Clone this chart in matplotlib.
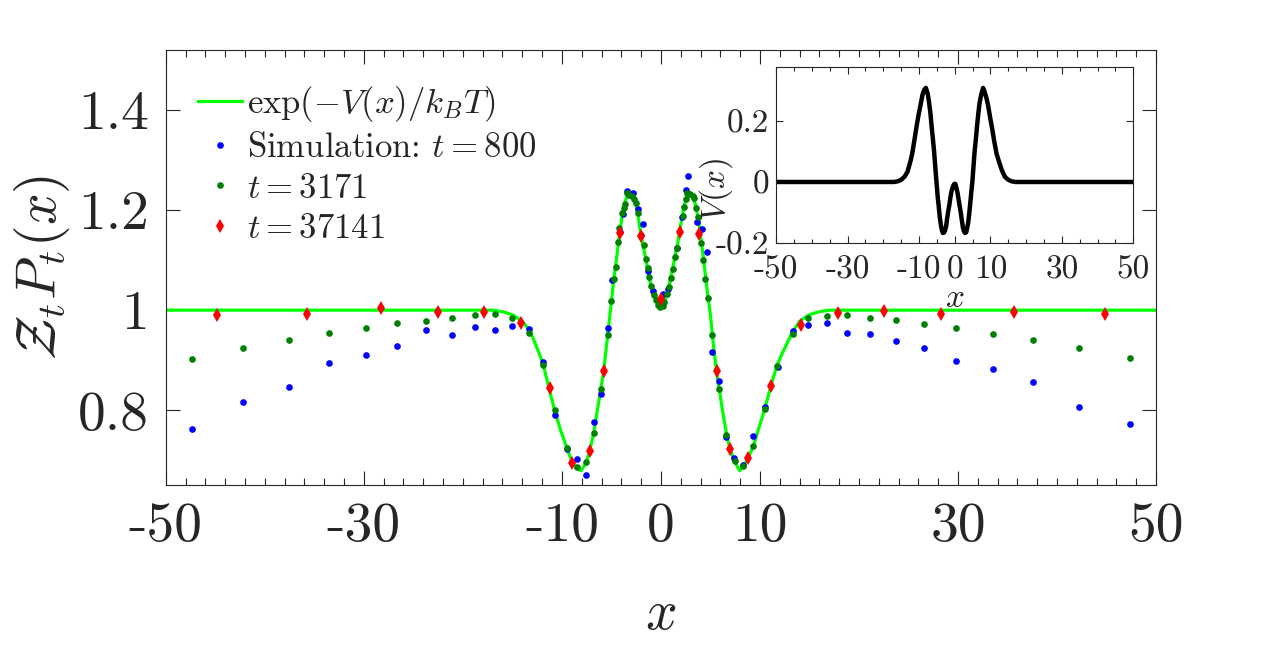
import numpy as np
import matplotlib
matplotlib.use('Agg')
import matplotlib.pyplot as plt
from matplotlib.ticker import FixedLocator, MultipleLocator

plt.rcParams['mathtext.fontset'] = 'cm'
plt.rcParams['font.family'] = 'serif'
plt.rcParams['font.serif'] = ['cmr10', 'DejaVu Serif']
plt.rcParams['axes.unicode_minus'] = False

# curva exp(-V/kT)
curva_x = [-50, -17, -16, -15, -14, -13.2, -12.3, -11.9, -11.3, -10.7, -10.1, -9.5, -9.0, -8.5,
           -8.06, -7.55, -7.19, -6.79, -6.4, -6.08, -5.78, -5.37, -5.1, -4.97, -4.77, -4.5, -4.2,
           -3.9, -3.6, -3.3, -3.0, -2.7, -2.4, -2.1, -1.8, -1.5, -1.2, -0.9, -0.6, -0.3, -0.05,
           0.2, 0.5, 0.8, 1.1, 1.4, 1.7, 2.0, 2.3, 2.6, 2.9, 3.2, 3.5, 3.8, 4.1, 4.4, 4.7, 5.0,
           5.2, 5.6, 5.9, 6.25, 6.64, 6.98, 7.41, 7.95, 8.32, 8.82, 9.33, 9.9, 10.5, 11.1, 11.7,
           12.4, 13.2, 14, 15, 16, 17, 50]
curva_y = [1.0, 1.0, 0.997, 0.991, 0.978, 0.958, 0.914, 0.892, 0.844, 0.797, 0.758, 0.725, 0.698, 0.684,
           0.679, 0.695, 0.719, 0.754, 0.802, 0.841, 0.879, 0.951, 1.0, 1.021, 1.061, 1.10, 1.15,
           1.19, 1.218, 1.234, 1.232, 1.222, 1.200, 1.160, 1.128, 1.100, 1.066, 1.040, 1.024, 1.012, 1.007,
           1.009, 1.025, 1.046, 1.075, 1.105, 1.135, 1.170, 1.205, 1.226, 1.233, 1.230, 1.210, 1.180, 1.135, 1.085, 1.035, 0.99,
           0.95, 0.878, 0.842, 0.795, 0.751, 0.722, 0.699, 0.679, 0.688, 0.705, 0.728, 0.765, 0.804, 0.848, 0.889,
           0.920, 0.953, 0.978, 0.991, 0.997, 1.0, 1.0]

# potencial V(x) do inset
pot_V = [0, 0, 0.002, 0.007, 0.018, 0.034, 0.072, 0.093, 0.136, 0.181, 0.222, 0.257, 0.288, 0.304,
         0.310, 0.291, 0.264, 0.226, 0.176, 0.139, 0.103, 0.040, 0.0, -0.017, -0.048, -0.076, -0.112,
         -0.139, -0.158, -0.168, -0.167, -0.160, -0.146, -0.119, -0.096, -0.076, -0.051, -0.031, -0.019, -0.010, -0.006,
         -0.007, -0.020, -0.036, -0.058, -0.080, -0.101, -0.126, -0.150, -0.163, -0.168, -0.166, -0.152, -0.132, -0.101, -0.065, -0.028, 0.008,
         0.041, 0.104, 0.138, 0.184, 0.228, 0.262, 0.287, 0.310, 0.299, 0.280, 0.254, 0.214, 0.175, 0.132, 0.094,
         0.067, 0.039, 0.018, 0.007, 0.002, 0, 0]

# t = 800 (azul)
azul_x = [-47.4, -42.2, -37.6, -33.5, -29.8, -26.6, -23.7, -21.1, -18.8, -16.8, -15.0, -13.3, -11.9, -10.7,
          -9.5, -8.5, -7.59, -6.79, -6.08, -5.37, -4.95, -4.13, -3.83, -3.4, -2.78, -2.35, -1.85, -1.35,
          -0.85, 0.17, 0.67, 1.6, 2.12, 2.51, 2.7, 3.65, 4.12, 4.7, 5.2, 5.9, 6.61, 7.41, 8.32, 9.33,
          10.53, 11.8, 13.3, 14.9, 16.8, 18.8, 21.1, 23.7, 26.6, 29.8, 33.5, 37.6, 42.2, 47.4]
azul_y = [0.762, 0.816, 0.846, 0.894, 0.910, 0.928, 0.960, 0.950, 0.966, 0.960, 0.968, 0.962, 0.897, 0.790,
          0.722, 0.703, 0.671, 0.776, 0.833, 0.964, 1.061, 1.157, 1.192, 1.239, 1.235, 1.202, 1.173, 1.078,
          1.039, 1.033, 1.042, 1.125, 1.187, 1.240, 1.269, 1.177, 1.162, 1.117, 0.916, 0.858, 0.747, 0.704, 0.690, 0.748,
          0.807, 0.886, 0.959, 0.970, 0.974, 0.954, 0.952, 0.938, 0.924, 0.898, 0.882, 0.856, 0.806, 0.772]

# t = 3171 (verde)
verde_x = [-47.4, -42.2, -37.6, -33.5, -29.8, -26.6, -23.7, -21.1, -18.8, -16.8, -15.0, -13.3, -11.9, -10.7,
           -9.5, -8.46, -7.59, -6.79, -6.08, -5.37, -5.04, -4.77, -4.53, -4.37, -4.2, -3.96, -3.76, -3.6,
           -3.43, -3.19, -2.96, -2.69, -2.52, -2.35, -2.01, -1.75, -1.51, -1.35, -1.18, -1.01, -0.74, -0.5,
           -0.34, -0.1, 0.17, 0.34, 0.6, 0.77, 1.0, 1.17, 1.41, 1.61, 2.18, 2.28, 2.5, 2.68, 2.95, 3.19,
           3.36, 3.52, 3.79, 4.03, 4.29, 4.46, 4.76, 5.2, 5.9, 6.61, 7.44, 8.32, 9.33, 10.5, 11.7, 13.3,
           14.9, 16.8, 18.8, 21.1, 23.7, 26.6, 29.8, 33.5, 37.6, 42.2, 47.4]
verde_y = [0.902, 0.924, 0.940, 0.954, 0.964, 0.974, 0.978, 0.984, 0.990, 0.992, 0.984, 0.954, 0.890, 0.800,
           0.725, 0.686, 0.696, 0.754, 0.842, 0.950, 1.019, 1.062, 1.087, 1.137, 1.165, 1.194, 1.204, 1.212,
           1.234, 1.231, 1.229, 1.222, 1.214, 1.194, 1.151, 1.131, 1.102, 1.084, 1.066, 1.049, 1.031, 1.021,
           1.011, 1.007, 1.009, 1.017, 1.033, 1.046, 1.064, 1.082, 1.107, 1.124, 1.189, 1.207, 1.222, 1.234, 1.233, 1.229,
           1.224, 1.204, 1.187, 1.134, 1.101, 1.062, 1.024, 0.950, 0.842, 0.751, 0.699, 0.688, 0.728, 0.803, 0.889, 0.952,
           0.984, 0.988, 0.990, 0.984, 0.980, 0.972, 0.964, 0.952, 0.940, 0.924, 0.904]

# t = 37141 (vermelho)
verm_x = [-44.8, -35.7, -28.3, -22.5, -17.9, -14.1, -11.2, -9.0, -7.19, -5.74, -4.13, -2.05, 0.0,
          1.88, 3.89, 5.64, 7.0, 8.8, 11.1, 14.1, 17.9, 22.5, 28.3, 35.7, 44.8]
verm_y = [0.990, 0.992, 1.004, 0.996, 0.996, 0.974, 0.845, 0.694, 0.719, 0.879, 1.155, 1.149, 1.022,
          1.156, 1.152, 0.879, 0.723, 0.705, 0.848, 0.970, 0.994, 0.998, 0.992, 0.996, 0.992]

cor_eixo = '#262626'

fig = plt.figure(figsize=(12.8, 6.7), dpi=100)
ax = fig.add_axes([0.1295, 0.2757, 0.7737, 0.6497])

ax.plot(curva_x, curva_y, '-', color=(0, 1, 0), lw=2.3, label=r'$\exp(-V(x)/k_BT)$', zorder=2)
ax.plot(azul_x, azul_y, 'o', color='b', ms=4.8, mew=0, label=r'Simulation: $t=800$', zorder=3)
ax.plot(verde_x, verde_y, 'o', color=(0, 0.5, 0), ms=4.8, mew=0, label=r'$t=3171$', zorder=4)
ax.plot(verm_x, verm_y, 'd', color='r', ms=7.3, mew=0, label=r'$t=37141$', zorder=5)

ax.set_xlim(-50, 50)
ax.set_ylim(0.65, 1.52)
ax.xaxis.set_major_locator(FixedLocator([-50, -30, -10, 0, 10, 30, 50]))
ax.set_xticklabels(['-50', '-30', '-10', '0', '10', '30', '50'])
ax.xaxis.set_minor_locator(MultipleLocator(2))
ax.yaxis.set_major_locator(FixedLocator([0.8, 1.0, 1.2, 1.4]))
ax.set_yticklabels(['0.8', '1', '1.2', '1.4'])
ax.tick_params(which='both', direction='in', top=True, right=True, color=cor_eixo,
               labelsize=40, labelcolor=cor_eixo, width=0.8)
ax.tick_params(which='major', length=10, pad=12)
ax.tick_params(which='minor', length=5)
for s in ax.spines.values():
    s.set_color(cor_eixo)
    s.set_linewidth(0.8)

ax.set_xlabel(r'$x$', fontsize=40, color=cor_eixo, labelpad=28)
ax.set_ylabel(r'$\mathcal{Z}_tP_t(x)$', fontsize=40, color=cor_eixo)
ax.yaxis.set_label_coords(-0.095, 0.5)

leg = ax.legend(loc='upper left', bbox_to_anchor=(0.0326, 0.922), frameon=False, fontsize=25,
                borderaxespad=0, borderpad=0, handlelength=1.27, handletextpad=0.15,
                labelspacing=0.25)
for t in leg.get_texts():
    t.set_color(cor_eixo)

# inset com o potencial
axi = fig.add_axes([0.6063, 0.6378, 0.2791, 0.2627])
axi.plot(curva_x, pot_V, '-', color='k', lw=3.2)
axi.set_xlim(-50, 50)
axi.set_ylim(-0.2, 0.38)
axi.xaxis.set_major_locator(FixedLocator([-50, -30, -10, 0, 10, 30, 50]))
axi.set_xticklabels(['-50', '-30', '-10', '0', '10', '30', '50'])
axi.xaxis.set_minor_locator(MultipleLocator(5))
axi.yaxis.set_major_locator(FixedLocator([-0.2, 0, 0.2]))
axi.set_yticklabels(['-0.2', '0', '0.2'])
axi.tick_params(which='both', direction='in', top=True, right=True, color=cor_eixo,
                labelsize=24, labelcolor=cor_eixo, width=0.8)
axi.tick_params(axis='x', pad=9)
axi.tick_params(axis='y', pad=5)
axi.tick_params(which='major', length=5)
axi.tick_params(which='minor', length=3)
for s in axi.spines.values():
    s.set_color(cor_eixo)
    s.set_linewidth(0.8)
axi.set_xlabel(r'$x$', fontsize=24, color=cor_eixo, labelpad=0)
axi.set_ylabel(r'$V(x)$', fontsize=24, color=cor_eixo)
axi.yaxis.set_label_coords(-0.115, 0.30)

plt.savefig('out.png', dpi=100)
